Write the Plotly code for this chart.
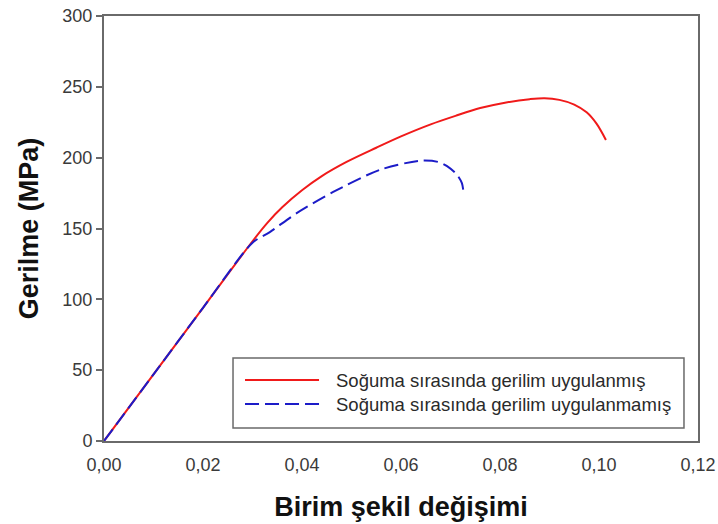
import plotly.graph_objects as go

# Stress-strain data: specimens cooled under stress vs. without stress
strain_loaded = [0.0, 0.010, 0.020, 0.030, 0.033, 0.036, 0.040, 0.044, 0.049, 0.055,
                 0.060, 0.066, 0.071, 0.076, 0.081, 0.086, 0.089, 0.092, 0.095, 0.0975,
                 0.0995, 0.1014]
stress_loaded = [0, 47, 94, 141, 154, 165, 177, 187, 197, 207,
                 215, 223.5, 229.5, 235, 238.8, 241.3, 242, 240.8, 237.5, 232,
                 224, 212.5]

strain_free = [0.0, 0.010, 0.020, 0.030, 0.0335, 0.039, 0.0463, 0.0558, 0.0638, 0.0675,
               0.0693, 0.0713, 0.0723, 0.0727]
stress_free = [0, 47, 94, 140, 147.5, 161, 175.8, 191.5, 197.8, 197,
               194, 188, 182, 173.5]

series_names = ["Soğuma sırasında gerilim uygulanmış",
                "Soğuma sırasında gerilim uygulanmamış"]

x_ticks = [0.0, 0.02, 0.04, 0.06, 0.08, 0.10, 0.12]
y_ticks = [0, 50, 100, 150, 200, 250, 300]

RED = "#f01a1a"
BLUE = "#1c1cc8"
DASH = "14px,6px"
AXIS = "#6a6a6a"
FONT = "Liberation Sans, Arial"

fig = go.Figure()
fig.add_trace(go.Scatter(x=strain_loaded, y=stress_loaded, mode="lines",
                         line=dict(color=RED, width=2, shape="spline", smoothing=0.9),
                         name=series_names[0], showlegend=False))
fig.add_trace(go.Scatter(x=strain_free, y=stress_free, mode="lines",
                         line=dict(color=BLUE, width=2, dash=DASH, shape="spline", smoothing=0.8),
                         name=series_names[1], showlegend=False))

# Boxed key in the lower right of the plot area
fig.add_shape(type="rect", xref="paper", yref="paper",
              x0=0.2172, x1=0.9764, y0=0.0306, y1=0.1953,
              line=dict(color=AXIS, width=1.5), fillcolor="white", layer="below")
rows = [(0.1435, RED, "solid"), (0.0870, BLUE, DASH)]
for (yy, col, dash), label in zip(rows, series_names):
    fig.add_shape(type="line", xref="paper", yref="paper",
                  x0=0.2374, x1=0.3620, y0=yy, y1=yy,
                  line=dict(color=col, width=2, dash=dash))
    fig.add_annotation(xref="paper", yref="paper", x=0.3870, y=yy,
                       text=label, showarrow=False, xanchor="left", yanchor="middle",
                       font=dict(family=FONT, size=18.5, color="#2a2a2a"))

fig.update_layout(
    width=718, height=524,
    margin=dict(l=104, r=20, t=16, b=83),
    paper_bgcolor="white", plot_bgcolor="white",
    separators=",.",
    font=dict(family=FONT, size=16, color="#333333"),
    showlegend=False,
)
fig.update_xaxes(
    range=[0, 0.12], tickvals=x_ticks, tickformat=".2f",
    automargin=False,
    showgrid=False, zeroline=False,
    showline=True, linecolor=AXIS, linewidth=2, mirror=True,
    ticks="", ticklabelstandoff=6,
    tickfont=dict(size=18, color="#3a3a3a"),
    title=dict(text="<b>Birim şekil değişimi</b>", standoff=24,
               font=dict(family=FONT, size=27, color="#111111")),
)
fig.update_yaxes(
    range=[0, 300], tickvals=y_ticks,
    automargin=False,
    showgrid=False, zeroline=False,
    showline=True, linecolor=AXIS, linewidth=2, mirror=True,
    ticks="outside", ticklen=6, tickcolor=AXIS, tickwidth=1.5,
    tickfont=dict(size=18, color="#3a3a3a"),
    title=dict(text="<b>Gerilme (MPa)</b>", standoff=16,
               font=dict(family=FONT, size=27, color="#111111")),
)

fig.write_html("out.html")
